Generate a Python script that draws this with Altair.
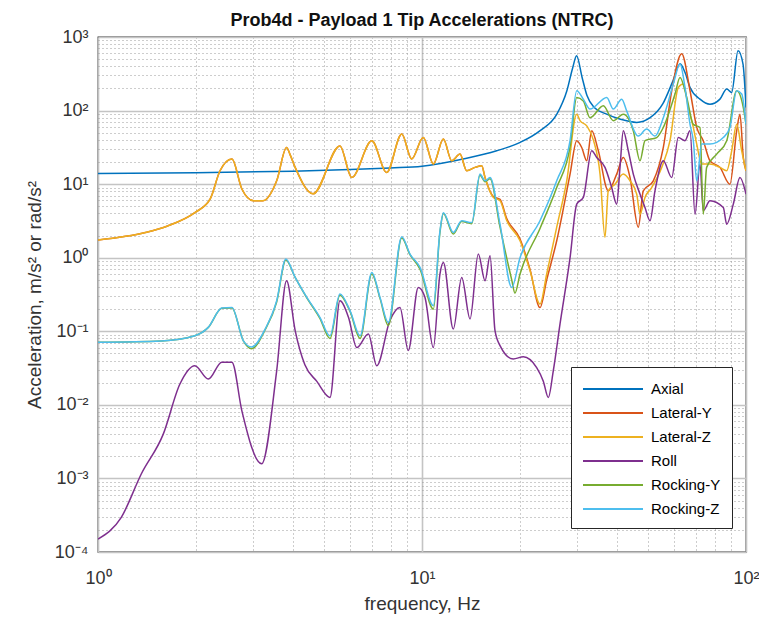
import altair as alt
import pandas as pd

series_names = ["Axial", "Lateral-Y", "Lateral-Z", "Roll", "Rocking-Y", "Rocking-Z"]
series_colors = ["#0072BD", "#D95319", "#EDB120", "#7E2F8E", "#77AC30", "#4DBEEE"]

axial_f = [1, 2, 4, 6, 8, 10, 13.4, 17, 20.1, 23.1, 26.1, 28, 29.2, 30, 31.2, 32.3, 34, 37, 41, 46,
           50.6, 55.4, 59.5, 62.6, 64.8, 67.2, 72.1, 77.4, 83.1, 87.2, 90.3, 94.5, 97.9, 100]
axial_v = [14, 14.3, 15, 15.8, 16.6, 17.5, 22, 28.4, 37, 53, 90, 186, 385, 555, 282, 160, 110, 90, 76, 69,
           80, 124, 253, 432, 331, 206, 143, 122, 143, 196, 176, 650, 428, 110]

laty_f = [1.0, 1.4, 1.64, 1.99, 2.22, 2.38, 2.59, 2.78, 3.02, 3.23, 3.56, 3.82, 3.91, 4.06, 4.61, 5.58,
          6.07, 7.0, 7.78, 8.66, 9.29, 10.09, 10.84, 11.64, 12.35, 13.1, 13.74, 14.58, 15.29, 15.65,
          16.6, 17.41, 18.26, 20.07, 21.54, 23.13, 24.26, 26.05, 28.64, 30.03, 31.11, 32.24, 33.4,
          35.01, 37.58, 39.89, 41.81, 43.85, 46.52, 48.19, 51.75, 55.57, 58.98, 63.32, 67.18, 70.46,
          73.81, 77.4, 83.1, 89.2, 93.6, 95.8, 98.1, 100]
laty_v = [1.74, 2.2, 2.7, 4.1, 6.3, 15.2, 22, 8.6, 5.95, 5.95, 11.1, 31.5, 25.6, 16.9, 7.4, 33,
          12.3, 38.9, 14.4, 48, 22, 43, 18.8, 41, 20.8, 25.6, 15.2, 16.9, 17.8, 12.3,
          6.8, 6.2, 3.4, 1.8, 0.7, 0.21, 0.5, 1.7, 13.7, 39, 31.5, 20.8, 53,
          28.4, 8.1, 13.7, 23, 12.3, 2.6, 8.1, 11.1, 31.5, 186, 590, 186, 59,
          39, 20.8, 16.9, 10, 53, 89, 23, 15.2]

latz_f = [1.0, 1.4, 1.64, 1.99, 2.22, 2.38, 2.59, 2.78, 3.02, 3.23, 3.56, 3.82, 3.91, 4.06, 4.61, 5.58,
          6.07, 7.0, 7.78, 8.66, 9.29, 10.09, 10.84, 11.64, 12.35, 13.1, 13.74, 14.58, 15.29, 15.65,
          16.6, 17.41, 18.26, 20.07, 21.54, 23.13, 24.26, 26.05, 27.97, 30.03, 30.74, 32.24, 33.79,
          35.44, 36.71, 37.58, 39.42, 41.81, 43.85, 46.0, 47.09, 48.78, 51.16, 54.94, 58.27, 61.8,
          64.05, 66.37, 68.77, 70.46, 72.98, 77.4, 83.1, 87.2, 90.34, 93.6, 97.0, 100]
latz_v = [1.74, 2.2, 2.7, 4.1, 6.3, 15.2, 22, 8.6, 5.95, 5.95, 11.1, 31.5, 25.6, 16.9, 7.4, 33,
          12.3, 38.9, 14.4, 48, 22, 43, 18.8, 41, 20.8, 25.6, 15.2, 16.9, 17.8, 12.3,
          6.6, 5.95, 3.2, 1.7, 0.67, 0.235, 0.6, 2.6, 11.1, 89, 73, 62, 40,
          13.7, 1.9, 8.1, 10, 13.7, 11.1, 7.3, 3.9, 6.6, 9.0, 16.9, 39, 206,
          229, 110, 59, 35, 18.8, 18.8, 16.9, 15.2, 28.4, 65, 28.4, 15.2]

roll_f = [1.0, 1.18, 1.36, 1.59, 1.79, 1.99, 2.19, 2.41, 2.59, 2.78, 3.20, 3.56, 3.82, 4.06, 4.35,
          4.73, 5.2, 5.58, 5.93, 6.29, 6.83, 7.25, 7.96, 8.55, 9.07, 9.74, 10.21, 10.84, 11.36, 11.64,
          12.49, 13.26, 14.07, 14.92, 15.65, 16.22, 16.8, 17.41, 19.13, 20.55, 22.59, 23.68, 24.54,
          25.42, 26.67, 28.64, 30.03, 31.47, 33.4, 34.62, 36.71, 38.5, 39.89, 40.84, 41.81, 43.32,
          44.89, 47.09, 48.78, 50.55, 52.37, 55.57, 58.98, 61.8, 64.83, 67.18, 69.61, 72.1, 73.81,
          77.4, 85.1, 87.2, 91.37, 95.8, 100]
roll_v = [1.5e-4, 2.96e-4, 1.15e-3, 4.0e-3, 0.0192, 0.034, 0.0224, 0.038, 0.038, 8.3e-3, 1.58e-3,
          0.029, 0.487, 0.102, 0.035, 0.021, 0.0126, 0.26, 0.155, 0.06, 0.092, 0.034, 0.14, 0.21,
          0.055, 0.395, 0.29, 0.06, 0.6, 0.86, 0.107, 0.54, 0.147, 1.12, 0.487, 1.06, 0.102, 0.064,
          0.042, 0.045, 0.032, 0.021, 0.0126, 0.029, 0.126, 1.0, 5.35, 6.6, 28.4, 23, 16.9, 9.0,
          5.35, 16.9, 53, 28.4, 13.7, 7.3, 4.8, 3.18, 8.1, 20.8, 12.3, 43, 39, 53, 3.9, 18.8, 4.35,
          5.95, 4.8, 2.86, 5.35, 12.3, 7.3]

rocky_f = [1.0, 1.57, 1.99, 2.19, 2.41, 2.59, 2.81, 2.98, 3.28, 3.56, 3.80, 4.06, 4.41, 4.84, 5.2,
           5.58, 6.0, 6.44, 7.0, 7.42, 7.87, 8.66, 9.18, 9.86, 10.84, 11.36, 11.64, 12.49, 13.26,
           14.24, 15.1, 15.65, 16.22, 17.41, 18.92, 19.36, 20.07, 23.13, 26.05, 28.64, 30.03, 31.47,
           33.0, 36.28, 38.94, 41.81, 44.89, 47.09, 48.78, 53.0, 55.57, 60.38, 62.56, 65.62, 68.77,
           72.1, 73.81, 75.6, 81.2, 87.2, 93.6, 98.1, 100]
rocky_v = [0.071, 0.074, 0.087, 0.113, 0.205, 0.208, 0.074, 0.058, 0.105, 0.25, 0.93, 0.54, 0.285,
           0.15, 0.08, 0.31, 0.185, 0.08, 0.6, 0.28, 0.12, 1.85, 1.1, 0.7, 0.2, 2.2, 4.0, 2.1, 3.1,
           2.9, 13.2, 10.8, 11.8, 2.6, 0.5, 0.33, 0.6, 2.5, 9, 32, 150, 135,
           80, 116, 73, 89, 53, 20.8, 39, 43, 59, 168, 282, 151, 65,
           59, 3.9, 16.9, 25.6, 39, 186, 110, 65]

rockz_f = [1.0, 1.57, 1.99, 2.19, 2.41, 2.59, 2.81, 2.98, 3.28, 3.56, 3.80, 4.06, 4.41, 4.84, 5.2,
           5.58, 6.0, 6.44, 7.0, 7.42, 7.87, 8.66, 9.18, 9.86, 10.84, 11.36, 11.64, 12.49, 13.26,
           14.24, 15.1, 15.65, 16.22, 17.41, 18.92, 20.07, 23.13, 26.05, 28.64, 30.03, 31.47, 33.0,
           37.17, 38.94, 41.34, 42.83, 46.52, 49.37, 52.37, 55.57, 59.65, 62.56, 64.83, 67.18, 68.77,
           70.46, 72.98, 77.4, 85.1, 89.2, 93.6, 97.0, 100]
rockz_v = [0.071, 0.074, 0.087, 0.113, 0.207, 0.211, 0.074, 0.061, 0.107, 0.26, 0.96, 0.54, 0.289,
           0.155, 0.087, 0.32, 0.19, 0.087, 0.63, 0.289, 0.132, 1.93, 1.12, 0.74, 0.223, 2.3, 4.1,
           2.2, 3.18, 3.0, 13.7, 11.1, 12.3, 2.86, 0.395, 1.0, 3.18, 11.1, 39, 186, 143, 105,
           151, 105, 143, 99, 45, 56, 45, 80, 229, 428, 206, 65, 39,
           11.1, 35, 35, 43, 59, 186, 168, 65]

x_ticks = [1, 2, 3, 4, 5, 6, 7, 8, 9, 10, 20, 30, 40, 50, 60, 70, 80, 90, 100]
y_ticks = [m * 10.0 ** e for e in range(-4, 3) for m in range(1, 10)] + [1000]
x_labels = ["10\u2070", "10\u00b9", "10\u00b2"]
y_labels = ["10\u207b\u2074", "10\u207b\u00b3", "10\u207b\u00b2", "10\u207b\u00b9",
            "10\u2070", "10\u00b9", "10\u00b2", "10\u00b3"]

pairs = [(axial_f, axial_v), (laty_f, laty_v), (latz_f, latz_v), (roll_f, roll_v),
         (rocky_f, rocky_v), (rockz_f, rockz_v)]
rows = []
for name, (fs, vs) in zip(series_names, pairs):
    assert len(fs) == len(vs), name
    for i, (f, v) in enumerate(zip(fs, vs)):
        rows.append({"series": name, "f": f, "v": v, "i": i})
df = pd.DataFrame(rows)

major = "abs(log(datum.value)/LN10 - round(log(datum.value)/LN10)) < 0.001"

def grid_props():
    return dict(
        grid=True,
        gridDash={"condition": {"test": major, "value": []}, "value": [1, 3]},
        gridColor={"condition": {"test": major, "value": "#c4c4c4"}, "value": "#9a9a9a"},
        gridWidth={"condition": {"test": major, "value": 1.6}, "value": 1},
    )

xlab_js = "[" + ",".join("'" + s + "'" for s in x_labels) + "]"
ylab_js = "[" + ",".join("'" + s + "'" for s in y_labels) + "]"

x_axis = alt.Axis(
    values=x_ticks,
    labelExpr=f"{major} ? {xlab_js}[round(log(datum.value)/LN10)] : ''",
    labelOverlap=False, labelFlush=False, ticks=False, domain=False,
    labelFontSize=18, labelColor="#333333", labelPadding=17,
    title="frequency, Hz", titleFontSize=19, titleFontWeight="normal", titleColor="#333333",
    titlePadding=7,
    **grid_props(),
)
y_axis = alt.Axis(
    values=y_ticks,
    labelExpr=f"{major} ? {ylab_js}[round(log(datum.value)/LN10)+4] : ''",
    labelOverlap=False, labelFlush=False, ticks=False, domain=False,
    labelFontSize=18, labelColor="#333333", labelPadding=10,
    title="Acceleration, m/s\u00b2 or rad/s\u00b2", titleFontSize=19, titleFontWeight="normal",
    titleColor="#333333", titlePadding=10,
    **grid_props(),
)

chart = alt.Chart(df).mark_line(strokeWidth=1.5, clip=True, interpolate="monotone").encode(
    x=alt.X("f:Q", scale=alt.Scale(type="log", domain=[1, 100], nice=False), axis=x_axis),
    y=alt.Y("v:Q", scale=alt.Scale(type="log", domain=[1e-4, 1e3], nice=False), axis=y_axis),
    color=alt.Color(
        "series:N",
        scale=alt.Scale(domain=series_names, range=series_colors),
        legend=alt.Legend(
            title=None, orient="none", legendX=473, legendY=330,
            symbolType="M-1,0H5", symbolSize=400, symbolStrokeWidth=2,
            labelFontSize=15, labelColor="black", labelOffset=47,
            padding=11, strokeColor="#262626", fillColor="white", rowPadding=5,
        ),
    ),
    order="i:Q",
).properties(
    width=648,
    height=515,
    title=alt.TitleParams(
        "Prob4d - Payload 1 Tip Accelerations (NTRC)",
        fontSize=18, fontWeight="bold", color="#111111", offset=8, dy=10,
    ),
    padding={"left": 90, "top": 29, "right": 13, "bottom": 68},
    autosize=alt.AutoSizeParams(type="none"),
).configure(
    font="Liberation Sans",
).configure_view(
    stroke="#262626", strokeWidth=1.3,
)

chart.save("out.html", embed_options={"renderer": "svg", "actions": False})
